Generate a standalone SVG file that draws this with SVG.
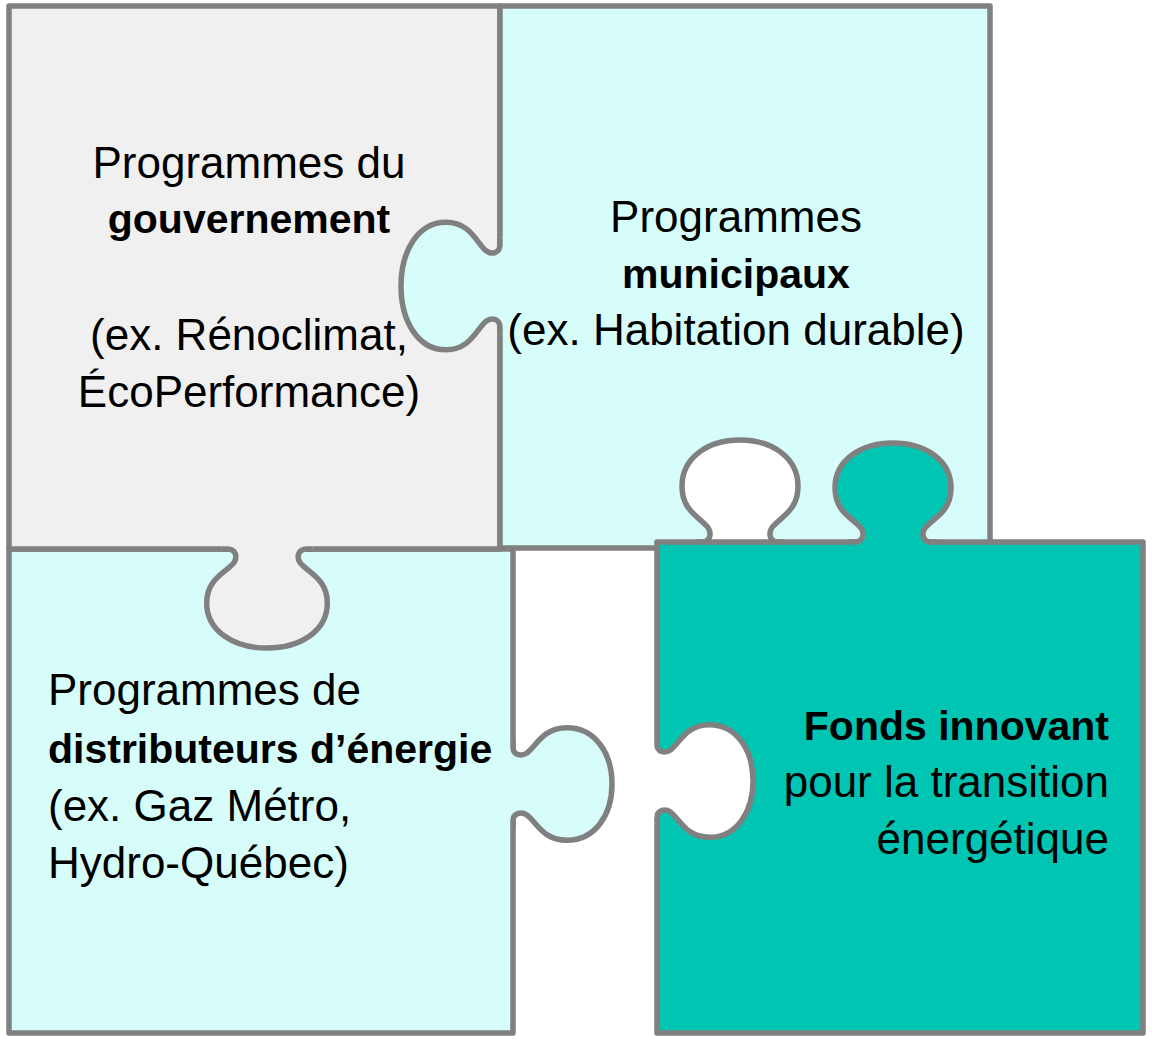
<svg xmlns="http://www.w3.org/2000/svg" xmlns:xlink="http://www.w3.org/1999/xlink" width="1154" height="1039" viewBox="0 0 1154 1039">
<style>
  .edge { stroke: #808080; stroke-width: 5.5; stroke-linejoin: round; }
  .kline { fill: none; stroke: #808080; stroke-width: 5.5; stroke-linejoin: round; }
  .gray { fill: #f0f0f0; }
  .cyan { fill: #d6fdf9; }
  .teal { fill: #00c5b3; }
  .hole { fill: #ffffff; }
  text { font-family: "Liberation Sans", Arial, sans-serif; font-size: 44px; fill: #000000; }
  .b { font-weight: bold; font-size: 41px; }
  .mid { text-anchor: middle; }
  .end { text-anchor: end; }
</style>
<defs>
  <g id="knob">
    <path stroke="none" d="M -44,-4 L -44,0 L -38,0 C -30,0 -28,8 -32,14 C -40,24 -58,30 -58,54 C -58,82 -32,99 0,99 C 32,99 58,82 58,54 C 58,30 40,24 32,14 C 28,8 30,0 38,0 L 44,0 L 44,-4 Z"/>
    <path class="kline" vector-effect="non-scaling-stroke" d="M -44,0 L -38,0 C -30,0 -28,8 -32,14 C -40,24 -58,30 -58,54 C -58,82 -32,99 0,99 C 32,99 58,82 58,54 C 58,30 40,24 32,14 C 28,8 30,0 38,0 L 44,0"/>
  </g>
</defs>

<g id="piece-distributeurs">
  <rect class="edge cyan" x="9" y="549" width="504" height="484"/>
  <use xlink:href="#knob" href="#knob" class="cyan" transform="translate(513,784) rotate(-90) scale(0.97,1)"/>
  <text x="48" y="705">Programmes de</text>
  <text class="b" x="48" y="763">distributeurs d’énergie</text>
  <text x="48" y="821">(ex. Gaz Métro,</text>
  <text x="48" y="878">Hydro-Québec)</text>
</g>

<g id="piece-gouvernement">
  <rect class="edge gray" x="9" y="6" width="491" height="543"/>
  <use xlink:href="#knob" href="#knob" class="gray" transform="translate(267,549) scale(1.04,1)"/>
  <text class="mid" x="249" y="178">Programmes du</text>
  <text class="mid b" x="249" y="233">gouvernement</text>
  <text class="mid" x="249" y="350">(ex. Rénoclimat,</text>
  <text class="mid" x="249" y="407">ÉcoPerformance)</text>
</g>

<g id="piece-municipaux">
  <rect class="edge cyan" x="500" y="6" width="490" height="542"/>
  <use xlink:href="#knob" href="#knob" class="cyan" transform="translate(500,286) rotate(90) scale(1.1,1)"/>
  <use xlink:href="#knob" href="#knob" class="hole" transform="translate(740,542) scale(1,-1.03)"/>
  <text class="mid" x="736" y="232">Programmes</text>
  <text class="mid b" x="736" y="288">municipaux</text>
  <text class="mid" x="736" y="345">(ex. Habitation durable)</text>
</g>

<g id="piece-fonds">
  <rect class="edge teal" x="657" y="542" width="486" height="491"/>
  <use xlink:href="#knob" href="#knob" class="teal" transform="translate(893,542) scale(1,-1)"/>
  <use xlink:href="#knob" href="#knob" class="hole" transform="translate(657,781) rotate(-90) scale(0.97,0.97)"/>
  <text class="end b" x="1109" y="740">Fonds innovant</text>
  <text class="end" x="1109" y="797">pour la transition</text>
  <text class="end" x="1109" y="854">énergétique</text>
</g>

<g id="connectors"></g>
</svg>
